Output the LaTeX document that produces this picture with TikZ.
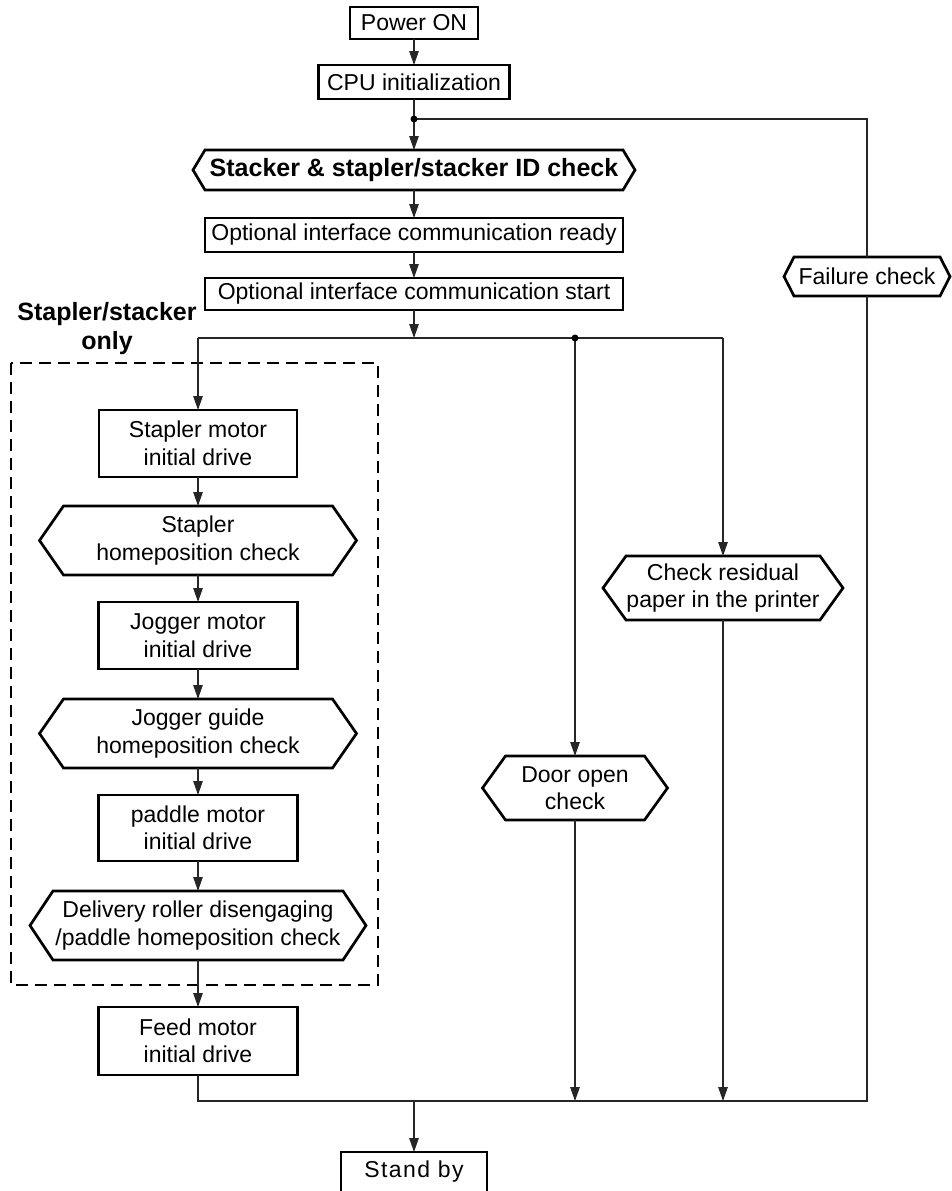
\documentclass[tikz,border=0pt]{standalone}
\usepackage{fontspec}
\setmainfont{Liberation Sans}
\newfontfamily\spacedfont[LetterSpace=6]{Liberation Sans}
\usetikzlibrary{arrows.meta}
\tikzset{
  every node/.style={inner sep=0pt, outer sep=0pt},
  txt/.style={font=\fontsize{23}{27.5}\selectfont, align=center},
  rbox/.style={txt, draw, line width=2.7pt, minimum width=#1},
  hbox/.style={txt},
  conn/.style={line width=1.2pt, draw=black!85},
  arr/.style={conn, -{Triangle[length=14pt,width=9.5pt]}},
  dotm/.style={fill=black, circle, minimum size=7pt}
}
\newcommand\myhex[7]{% name, x, y, width, height, indent, text
  \node[hbox, minimum width=#4pt, minimum height=#5pt] (#1) at (#2,#3) {#7};
  \draw[line width=2.7pt, line join=miter]
    (#1.west) -- ([xshift=#6pt]#1.north west) -- ([xshift=-#6pt]#1.north east)
    -- (#1.east) -- ([xshift=-#6pt]#1.south east) -- ([xshift=#6pt]#1.south west) -- cycle;
}
\begin{document}
\begin{tikzpicture}[x=1pt, y=-1pt]
\useasboundingbox (0,0) rectangle (952,1191);
\fill[white] (0,0) rectangle (952,1191);

% top column
\node[rbox=128pt, minimum height=32pt] (pon) at (414,23) {Power ON};
\node[rbox=191pt, minimum height=34pt] (cpu) at (414,82) {CPU initialization};
\coordinate (dot1) at (414,119);
\node[font=\fontsize{25}{29}\selectfont\bfseries, minimum width=442pt, minimum height=40pt] (stk) at (414,170) {Stacker \& stapler/stacker ID check};
\draw[line width=2.7pt, line join=miter]
    (stk.west) -- ([xshift=12pt]stk.north west) -- ([xshift=-12pt]stk.north east)
    -- (stk.east) -- ([xshift=-12pt]stk.south east) -- ([xshift=12pt]stk.south west) -- cycle;
\node[rbox=418pt, minimum height=34pt] (rdy) at (414,235) {Optional interface communication ready};
\node[rbox=418pt, minimum height=32pt] (sta) at (414,294) {Optional interface communication start};

% split line
\coordinate (split) at (414,338);
\coordinate (sL) at (198,338);
\coordinate (sD) at (575,338);
\coordinate (sR) at (723,338);

% stapler/stacker only group
\node[font=\fontsize{25}{29}\selectfont\bfseries, align=center] (lbl) at (107,329) {Stapler/stacker\\only};
\draw[line width=2.7pt, dash pattern=on 12pt off 7pt] (11,363) rectangle (378,985);

\node[rbox=198pt, minimum height=67pt] (sm) at (198,443.5) {Stapler motor\\initial drive};
\myhex{hx1}{198}{540.5}{317}{69}{24}{Stapler\\homeposition check}
\node[rbox=199pt, minimum height=67pt] (jm) at (198,635.5) {Jogger motor\\initial drive};
\myhex{hx2}{198}{733.5}{317}{69}{24}{Jogger guide\\homeposition check}
\node[rbox=199pt, minimum height=66pt] (pm) at (198,828) {paddle motor\\initial drive};
\myhex{hx3}{198}{925.5}{336}{69}{23}{Delivery roller disengaging\\/paddle homeposition check}
\node[rbox=199pt, minimum height=68pt] (feed) at (198,1041) {Feed motor\\initial drive};

% right branches
\myhex{cr}{723}{588}{240}{64}{23}{Check residual\\paper in the printer}
\myhex{door}{575}{788}{185}{64}{23}{Door open\\check}
\myhex{fail}{867}{276.5}{166}{39}{10}{Failure check}
\coordinate (tR) at (867,119);

% bottom merge
\coordinate (bL) at (198,1101);
\coordinate (bM) at (414,1101);
\coordinate (bR) at (867,1101);
\node[txt, draw, line width=2.7pt, minimum width=146pt, minimum height=40pt, font=\fontsize{23}{27.5}\spacedfont] (sb) at (414,1172) {Stand by};

% connectors
\draw[arr] (pon) -- (cpu);
\draw[conn] (cpu) -- (dot1);
\draw[arr] (dot1) -- (stk);
\draw[conn] (dot1) -- (tR) -- (fail.north);
\draw[arr] (stk) -- (rdy);
\draw[arr] (rdy) -- (sta);
\draw[arr] (sta) -- (split);
\draw[conn] (sL) -- (sR);
\draw[arr] (sL) -- (sm);
\draw[arr] (sD) -- (door);
\draw[arr] (sR) -- (cr);
\draw[arr] (sm) -- (hx1);
\draw[arr] (hx1) -- (jm);
\draw[arr] (jm) -- (hx2);
\draw[arr] (hx2) -- (pm);
\draw[arr] (pm) -- (hx3);
\draw[arr] (hx3) -- (feed);
\draw[conn] (feed) -- (bL) -- (bR) -- (fail.south);
\draw[arr] (door) -- (door.south |- bL);
\draw[arr] (cr) -- (cr.south |- bL);
\draw[arr] (bM) -- (sb);

\node[dotm] at (dot1) {};
\node[dotm] at (sD) {};
\end{tikzpicture}
\end{document}
